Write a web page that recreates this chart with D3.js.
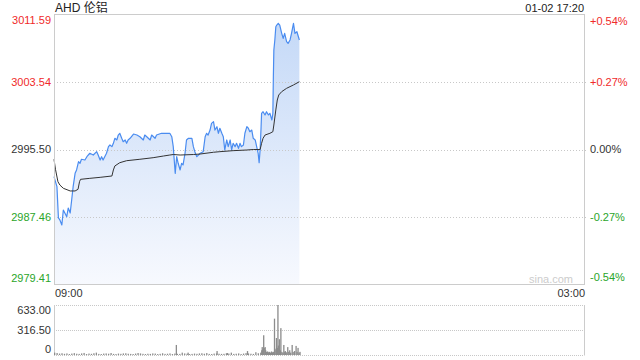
<!DOCTYPE html>
<html>
<head>
<meta charset="utf-8">
<script src="https://cdn.jsdelivr.net/npm/d3@7"></script>
<style>
body { margin: 0; background: #fff; }
svg { display: block; font-family: "Liberation Sans", Arial, "Noto Sans CJK SC", sans-serif; }
</style>
</head>
<body>
<div id="chart"></div>
<script>
// minutes since 09:00 (session runs 09:00 -> 03:00 next day)
const priceMin = [0,6,9,12,16,19,26,29,33,36,39,43,46,50,53,56,63,67,73,80,87,90,94,97,100,107,111,114,118,121,124,128,131,134,138,141,145,148,151,155,162,169,175,182,185,189,196,199,206,209,219,230,236,240,243,245,247,250,253,257,260,263,267,270,274,281,284,287,291,298,304,308,311,314,318,321,325,328,332,335,338,342,345,348,352,355,359,362,365,369,372,376,379,382,386,389,393,396,399,403,406,410,413,416,418,420,422,423,426,430,433,437,440,444,446,447,448,450,452,454,457,460,464,467,470,474,477,481,484,488,491,495,498,500];
const price = [2992.25,2991.05,2987.31,2987.07,2986.47,2988.26,2987.46,2988.50,2987.90,2989.46,
  2991.05,2992.65,2993.05,2994.04,2993.85,2994.33,2994.24,2994.64,2995.05,2994.84,
  2995.24,2994.84,2994.24,2994.64,2994.24,2995.05,2995.84,2996.04,2995.84,2996.24,
  2996.84,2996.64,2997.23,2997.44,2996.84,2996.43,2996.64,2996.24,2996.64,2996.84,
  2997.35,2997.23,2997.03,2996.64,2997.23,2997.03,2996.64,2997.23,2996.84,2997.23,
  2997.44,2997.44,2997.44,2997.03,2995.84,2994.24,2992.65,2994.64,2993.85,2993.05,
  2993.85,2993.65,2995.05,2996.64,2996.84,2996.84,2995.84,2995.24,2994.64,2995.05,
  2995.24,2997.03,2997.44,2997.23,2997.83,2998.63,2998.83,2997.83,2998.23,2997.44,
  2998.04,2997.44,2997.03,2995.45,2996.64,2995.84,2996.64,2995.45,2996.24,2995.84,
  2996.24,2995.64,2996.24,2995.84,2996.04,2997.44,2998.23,2998.04,2997.63,2997.83,
  2996.84,2996.64,2995.84,2995.05,2993.92,2995.45,2998.23,2999.83,3000.02,2999.63,
  3000.02,2999.63,2999.83,2999.03,2999.83,3004.21,3007.40,3008.60,3010.19,3010.39,
  3010.60,3010.39,3009.40,3008.80,3009.40,3008.40,3008.20,3008.60,3009.40,3010.60,
  3009.40,3009.59,3008.99,3008.60];

// average price line
const avgMin = [0,3,8,12,19,33,43,49,52,54,73,94,118,121,124,134,148,175,202,223,236,243,257,284,298,325,338,365,393,406,420,423,426,430,440,446,448,452,455,458,464,474,488,500];
const avg = [2994.33,2993.13,2991.65,2991.25,2990.86,2990.54,2990.54,2990.74,2991.65,2991.93,
  2992.05,2992.17,2992.33,2993.05,2993.53,2993.92,2994.16,2994.33,2994.52,2994.72,
  2994.84,2994.90,2994.84,2994.90,2994.96,2995.17,2995.24,2995.36,2995.44,2995.50,
  2995.50,2996.24,2996.84,2997.23,2997.44,2997.63,2998.43,3000.23,3001.42,3002.02,
  3002.42,3002.82,3003.22,3003.61];

// volume
const volMin = [0,5,10,15,20,25,30,35,40,45,50,55,60,65,70,75,80,85,90,95,100,105,110,115,120,125,130,135,140,145,150,155,160,165,170,175,180,185,190,195,200,205,210,215,220,225,230,235,240,245,250,255,260,265,270,275,280,285,290,295,300,305,310,315,320,325,330,335,340,345,350,355,360,365,370,375,380,385,390,395,400,405,410,415,
  248,272,331,352,393,
  420,422,423,424,426,427,429,430,432,434,436,438,440,442,444,446,448,449,451,452,454,455,456,458,460,461,463,465,467,469,470,472,475,477,479,481,484,486,489,492,494,496,498,500];
const vol = [30,25,18,22,15,20,12,18,24,16,14,20,26,12,18,15,22,30,14,12,18,20,16,25,14,12,18,15,20,22,16,14,12,18,25,20,15,12,16,14,20,18,12,15,22,14,16,20,12,18,15,14,30,20,16,12,14,18,15,20,22,16,25,14,12,18,20,16,14,15,22,18,30,14,16,20,12,18,24,20,16,14,35,22,
  127,30,50,25,50,
  30,60,100,70,250,90,100,60,40,45,35,40,30,45,35,40,460,60,80,215,90,633,120,200,60,340,40,30,127,40,50,35,100,40,60,30,127,40,50,115,40,90,30,40];

const priceTicks = [2979.41, 2987.46, 2995.50, 3003.54, 3011.59];
const pctLabels = ["-0.54%", "-0.27%", "0.00%", "+0.27%", "+0.54%"];
const volTicks = [0, 316.5, 633];
const volLabels = ["0", "316.50", "633.00"];
const prevClose = 2995.50;

const width = 640, height = 360;
const left = 54, right = 584;
const red = "#f02a2a", green = "#2aa52a", dark = "#333";

const x = d3.scaleLinear().domain([0, 1080]).range([left, right]);
const y = d3.scaleLinear().domain([2979.41, 3011.59]).range([284, 15]);
const yv = d3.scaleLinear().domain([0, 633]).range([355, 305]);

const svg = d3.select("#chart").append("svg")
    .attr("width", width)
    .attr("height", height);

const defs = svg.append("defs");
const grad = defs.append("linearGradient")
    .attr("id", "fillGrad")
    .attr("gradientUnits", "userSpaceOnUse")
    .attr("x1", 0).attr("y1", 15).attr("x2", 0).attr("y2", 284);
grad.append("stop").attr("offset", "0%").attr("stop-color", "#c3d8f7");
grad.append("stop").attr("offset", "100%").attr("stop-color", "#f7f9fe");

// title row
svg.append("text")
    .attr("x", 55).attr("y", 12)
    .attr("font-size", 12).attr("fill", "#222")
    .text("AHD 伦铝");
svg.append("text")
    .attr("x", right).attr("y", 12)
    .attr("text-anchor", "end")
    .attr("font-size", 11).attr("fill", "#222")
    .text("01-02 17:20");

// price area + lines
const pts = priceMin.map((m, i) => [m, price[i]]);
svg.append("path")
    .datum(pts)
    .attr("fill", "url(#fillGrad)")
    .attr("d", d3.area().x(d => x(d[0])).y0(y(2979.41)).y1(d => y(d[1])));

// gridlines
svg.append("g").selectAll("line")
    .data(priceTicks.slice(1, -1))
    .join("line")
    .attr("x1", left).attr("x2", right + 4)
    .attr("y1", d => Math.round(y(d)) + 0.5).attr("y2", d => Math.round(y(d)) + 0.5)
    .attr("stroke", "#c8c8c8")
    .attr("stroke-dasharray", "1,2");

svg.append("path")
    .datum(pts)
    .attr("fill", "none")
    .attr("stroke", "#4a8cf0")
    .attr("stroke-width", 1.2)
    .attr("stroke-linejoin", "round")
    .attr("d", d3.line().x(d => x(d[0])).y(d => y(d[1])));

svg.append("path")
    .datum(avgMin.map((m, i) => [m, avg[i]]))
    .attr("fill", "none")
    .attr("stroke", "#333")
    .attr("stroke-width", 1)
    .attr("d", d3.line().x(d => x(d[0])).y(d => y(d[1])));

// frame
svg.append("rect")
    .attr("x", left + 0.5).attr("y", 14.5)
    .attr("width", right - left).attr("height", 270)
    .attr("fill", "none").attr("stroke", "#ccc");

const tickColor = v => v > prevClose ? red : (v < prevClose ? green : dark);

svg.append("g").selectAll("text")
    .data(priceTicks)
    .join("text")
    .attr("x", 51)
    .attr("y", d => Math.max(20, Math.min(278, y(d))))
    .attr("dy", "0.35em")
    .attr("text-anchor", "end")
    .attr("font-size", 11)
    .attr("fill", tickColor)
    .text(d => d.toFixed(2));

svg.append("g").selectAll("text")
    .data(priceTicks)
    .join("text")
    .attr("x", 590)
    .attr("y", d => Math.max(21, Math.min(277, y(d))))
    .attr("dy", "0.35em")
    .attr("font-size", 11)
    .attr("fill", tickColor)
    .text((d, i) => pctLabels[i]);

svg.append("text")
    .attr("x", 573).attr("y", 279).attr("dy", "0.35em")
    .attr("text-anchor", "end")
    .attr("font-size", 11).attr("fill", "#ccc")
    .text("sina.com");

// time labels
svg.append("text")
    .attr("x", 55).attr("y", 293).attr("dy", "0.35em")
    .attr("font-size", 11).attr("fill", dark)
    .text("09:00");
svg.append("text")
    .attr("x", 585).attr("y", 293).attr("dy", "0.35em")
    .attr("text-anchor", "end")
    .attr("font-size", 11).attr("fill", dark)
    .text("03:00");

// volume panel
svg.append("g").selectAll("line")
    .data(volTicks)
    .join("line")
    .attr("x1", left).attr("x2", right)
    .attr("y1", d => Math.round(yv(d)) + 0.5).attr("y2", d => Math.round(yv(d)) + 0.5)
    .attr("stroke", "#c8c8c8")
    .attr("stroke-dasharray", "1,1");

svg.append("g").selectAll("line")
    .data([left, right])
    .join("line")
    .attr("x1", d => d + 0.5).attr("x2", d => d + 0.5)
    .attr("y1", yv(633)).attr("y2", yv(0) + 0.5)
    .attr("stroke", "#ccc");

svg.append("g").selectAll("rect")
    .data(volMin.map((m, i) => [m, vol[i]]))
    .join("rect")
    .attr("x", d => x(d[0]))
    .attr("width", 1.3)
    .attr("y", d => yv(d[1]))
    .attr("height", d => yv(0) - yv(d[1]))
    .attr("fill", "#8c8c8c");

svg.append("g").selectAll("text")
    .data(volTicks)
    .join("text")
    .attr("x", 51)
    .attr("y", d => Math.max(310, Math.min(349, yv(d))))
    .attr("dy", "0.35em")
    .attr("text-anchor", "end")
    .attr("font-size", 11)
    .attr("fill", dark)
    .text((d, i) => volLabels[i]);
</script>
</body>
</html>
